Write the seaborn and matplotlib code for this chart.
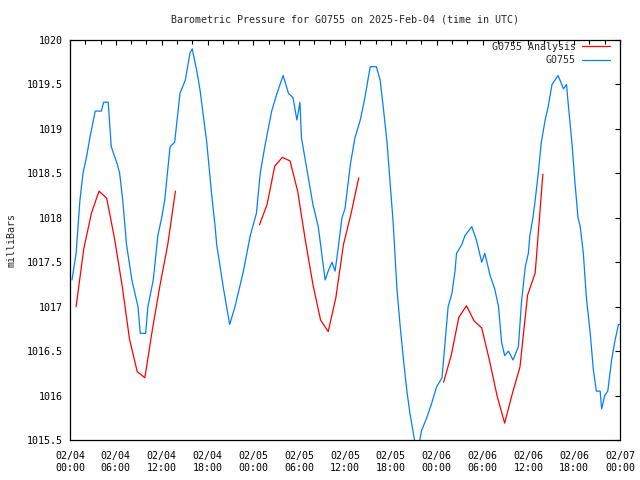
import matplotlib
matplotlib.use("Agg")
import matplotlib.pyplot as plt
import matplotlib.dates as mdates
from matplotlib.lines import Line2D
import seaborn as sns
import pandas as pd
import numpy as np

# ---------------- data ----------------
start_time = "2025-02-04 00:00"

blue_hours = [0.26, 0.8, 1.3, 1.7, 2.2, 2.6, 3.3, 4.1, 4.4, 5.0, 5.4, 6.2, 6.5, 6.9, 7.4,
              8.1, 8.9, 9.2, 9.9, 10.2, 10.9, 11.5, 12.0, 12.4, 13.1, 13.7, 14.4, 15.1,
              15.7, 16.0, 16.6, 17.0, 17.9, 18.5, 19.0, 19.2, 20.1, 20.5, 20.9, 21.6,
              22.7, 23.6, 24.4, 24.9, 25.5, 26.4, 27.1, 27.9, 28.6, 29.2, 29.7, 30.1,
              30.3, 31.0, 31.8, 32.5, 33.4, 33.8, 34.3, 34.7, 35.1, 35.6, 36.0, 36.7,
              37.3, 38.0, 38.6, 39.1, 39.3, 40.1, 40.6, 41.0, 41.5, 41.9, 42.3, 42.8,
              43.2, 43.6, 44.1, 44.5, 44.9, 45.3, 45.7, 46.0, 46.7, 47.3, 48.0, 48.7,
              49.1, 49.5, 50.0, 50.4, 50.6, 51.3, 51.7, 52.6, 53.2, 53.9, 54.3, 55.0,
              55.6, 56.1, 56.5, 56.9, 57.4, 58.0, 58.7, 59.1, 59.6, 60.0, 60.2, 60.6,
              60.9, 61.3, 61.7, 62.2, 62.6, 63.1, 63.9, 64.6, 65.0, 65.2, 65.7, 66.1,
              66.5, 66.8, 67.2, 67.6, 68.1, 68.5, 68.9, 69.4, 69.6, 70.0, 70.4, 70.9,
              71.3, 71.8, 72.0]
blue_mb = [1017.3, 1017.6, 1018.2, 1018.5, 1018.7, 1018.9, 1019.2, 1019.2, 1019.3, 1019.3,
           1018.8, 1018.6, 1018.5, 1018.2, 1017.7, 1017.3, 1017.0, 1016.7, 1016.7, 1017.0,
           1017.3, 1017.8, 1018.0, 1018.2, 1018.8, 1018.85, 1019.4, 1019.55, 1019.85,
           1019.9, 1019.65, 1019.45, 1018.85, 1018.3, 1017.9, 1017.7, 1017.2, 1017.0,
           1016.8, 1017.0, 1017.4, 1017.8, 1018.05, 1018.5, 1018.8, 1019.2, 1019.4,
           1019.6, 1019.4, 1019.35, 1019.1, 1019.3, 1018.9, 1018.55, 1018.15, 1017.9,
           1017.3, 1017.4, 1017.5, 1017.4, 1017.65, 1018.0, 1018.1, 1018.6, 1018.9,
           1019.1, 1019.35, 1019.6, 1019.7, 1019.7, 1019.55, 1019.25, 1018.85, 1018.4,
           1017.95, 1017.2, 1016.8, 1016.45, 1016.05, 1015.8, 1015.6, 1015.4, 1015.45,
           1015.6, 1015.75, 1015.9, 1016.1, 1016.2, 1016.6, 1017.0, 1017.15, 1017.4,
           1017.6, 1017.7, 1017.8, 1017.9, 1017.75, 1017.5, 1017.6, 1017.35, 1017.2,
           1017.0, 1016.6, 1016.45, 1016.5, 1016.4, 1016.55, 1017.05, 1017.45, 1017.6,
           1017.8, 1018.0, 1018.2, 1018.5, 1018.85, 1019.1, 1019.25, 1019.5, 1019.6,
           1019.45, 1019.5, 1019.3, 1018.85, 1018.4, 1018.0, 1017.9, 1017.6, 1017.1,
           1016.7, 1016.3, 1016.05, 1016.05, 1015.85, 1016.0, 1016.05, 1016.4, 1016.6,
           1016.8, 1016.8]

red1_hours = [0.8, 1.8, 2.8, 3.8, 4.8, 5.8, 6.8, 7.8, 8.8, 9.8, 10.8, 11.8, 12.8, 13.8]
red1_mb = [1017.0, 1017.65, 1018.05, 1018.3, 1018.22, 1017.78, 1017.25, 1016.63,
           1016.27, 1016.2, 1016.75, 1017.25, 1017.7, 1018.3]
red2_hours = [24.8, 25.8, 26.8, 27.8, 28.8, 29.8, 30.8, 31.8, 32.8, 33.8, 34.8, 35.8,
              36.8, 37.8]
red2_mb = [1017.92, 1018.15, 1018.58, 1018.68, 1018.64, 1018.3, 1017.75, 1017.25,
           1016.85, 1016.72, 1017.1, 1017.7, 1018.05, 1018.45]
red3_hours = [48.9, 49.9, 50.9, 51.9, 52.9, 53.9, 54.9, 55.9, 56.9, 57.9, 58.9, 59.9,
              60.9, 61.9]
red3_mb = [1016.15, 1016.45, 1016.88, 1017.01, 1016.84, 1016.76, 1016.4, 1016.0,
           1015.69, 1016.02, 1016.32, 1017.13, 1017.38, 1018.49]

ytick_values = [1015.5, 1016, 1016.5, 1017, 1017.5, 1018, 1018.5, 1019, 1019.5, 1020]
ytick_labels = ["1015.5", "1016", "1016.5", "1017", "1017.5", "1018", "1018.5",
                "1019", "1019.5", "1020"]

title = "Barometric Pressure for G0755 on 2025-Feb-04 (time in UTC)"
ylabel = "milliBars"
label_analysis = "G0755 Analysis"
label_obs = "G0755"

RED = "#ff0000"
BLUE = "#0080ff"

# ---------------- frames ----------------
t0 = pd.Timestamp(start_time)
obs = pd.DataFrame({"time": t0 + pd.to_timedelta(blue_hours, unit="h"), "mb": blue_mb})
ana = pd.concat([
    pd.DataFrame({"time": t0 + pd.to_timedelta(h, unit="h"), "mb": v, "seg": i})
    for i, (h, v) in enumerate([(red1_hours, red1_mb), (red2_hours, red2_mb),
                                (red3_hours, red3_mb)])
], ignore_index=True)

# ---------------- style ----------------
sns.set_theme(style="white")
plt.rcParams["font.family"] = ["DejaVu Sans Mono", "DejaVu Sans"]
plt.rcParams["font.size"] = 7.2

fig = plt.figure(figsize=(6.4, 4.8), dpi=100)
ax = fig.add_axes([70 / 640, 1 - 440 / 480, 550 / 640, 400 / 480])

sns.lineplot(data=ana, x="time", y="mb", units="seg", estimator=None, sort=False,
             color=RED, linewidth=0.9, ax=ax, legend=False)
sns.lineplot(data=obs, x="time", y="mb", estimator=None, sort=False,
             color=BLUE, linewidth=0.9, ax=ax, legend=False)

ax.set_xlim(t0, t0 + pd.Timedelta(hours=72))
ax.set_ylim(1015.5, 1020)
ax.set_yticks(ytick_values)
ax.set_yticklabels(ytick_labels)

ax.xaxis.set_major_locator(mdates.HourLocator(byhour=[0, 6, 12, 18]))
ax.xaxis.set_minor_locator(mdates.HourLocator(interval=2))
ax.xaxis.set_major_formatter(mdates.DateFormatter("%m/%d\n%H:%M"))

ax.tick_params(axis="both", which="both", direction="in", top=True, right=True,
               colors="black", labelsize=7.2, width=0.8)
ax.tick_params(axis="both", which="major", length=3.5)
ax.tick_params(axis="both", which="minor", length=3)
ax.tick_params(axis="y", pad=5)
ax.tick_params(axis="x", pad=8)
for lab in ax.get_xticklabels():
    lab.set_linespacing(1.25)

for s in ax.spines.values():
    s.set_visible(True)
    s.set_color("black")
    s.set_linewidth(0.9)

ax.set_xlabel("")
ax.set_ylabel("")
fig.text(12 / 640, 1 - 240 / 480, ylabel, rotation=90, ha="center", va="center",
         fontsize=7.2)
fig.text(345 / 640, 1 - 19 / 480, title, ha="center", va="center", fontsize=7.2)

handles = [Line2D([], [], color=RED, linewidth=0.9),
           Line2D([], [], color=BLUE, linewidth=0.9)]
ax.legend(handles, [label_analysis, label_obs], loc="upper right",
          bbox_to_anchor=((610 - 70) / 550, (440 - 42) / 400), frameon=False,
          markerfirst=False, handlelength=2.8, handletextpad=0.6,
          labelspacing=0.35, borderpad=0, borderaxespad=0, fontsize=7.2)

fig.savefig("out.png", dpi=100)
